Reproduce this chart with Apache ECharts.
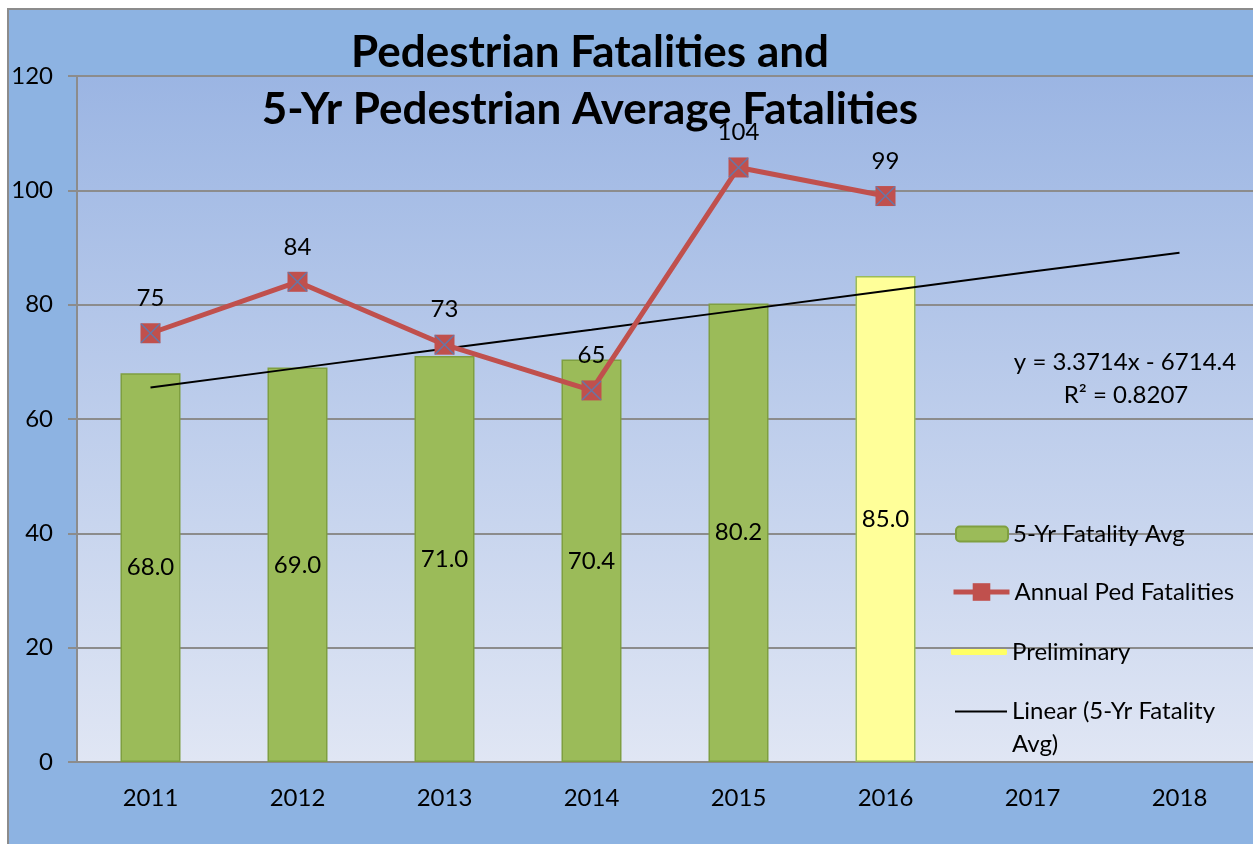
<!DOCTYPE html>
<html>
<head>
<meta charset="utf-8">
<script src="https://cdn.jsdelivr.net/npm/echarts@6/dist/echarts.min.js"></script>
<style>
  body { margin: 0; background: #fff; }
  #bg { position: absolute; left: 7px; top: 8px; width: 1246px; height: 836px;
        background: #8db3e2; border-left: 2px solid #8c8c8c; border-top: 2px solid #8c8c8c; box-sizing: border-box; }
  #chart { position: absolute; left: 0; top: 0; width: 1253px; height: 844px; }
</style>
</head>
<body>
<div id="bg"></div>
<div id="chart"></div>
<script>
// values
const years = ['2011', '2012', '2013', '2014', '2015', '2016', '2017', '2018']
const avgFatalities = [68.0, 69.0, 71.0, 70.4, 80.2, 85.0]
const annualFatalities = [75, 84, 73, 65, 104, 99]
const trendValues = [65.5, 68.9, 72.3, 75.6, 79.0, 82.4, 85.8, 89.1]
const preliminaryYear = '2016'
const trendText = ['y = 3.3714x - 6714.4', 'R² = 0.8207']

const FONT = 'Lato'
const FS = 24

const barData = avgFatalities.map((v, i) => years[i] === preliminaryYear
  ? {value: v, itemStyle: {color: '#ffff99', borderColor: '#9bbb59'}}
  : v)

const legendBase = {
  orient: 'vertical',
  padding: 0,
  textStyle: {fontFamily: FONT, fontSize: FS, color: '#000'},
  selectedMode: false
}

const option = {
  backgroundColor: 'transparent',
  animation: false,
  title: {
    text: 'Pedestrian Fatalities and\n5-Yr Pedestrian Average Fatalities',
    left: 585,
    top: 19,
    textAlign: 'center',
    textStyle: {fontFamily: FONT, fontSize: 44, fontWeight: 'bold', color: '#000', lineHeight: 57}
  },
  grid: {
    left: 77,
    top: 76,
    right: 0,
    bottom: 82,
    show: true,
    borderWidth: 0,
    backgroundColor: new echarts.graphic.LinearGradient(0, 0, 0, 1, [
      {offset: 0, color: '#9bb5e3'},
      {offset: 1, color: '#e0e6f4'}
    ])
  },
  legend: [
    Object.assign({}, legendBase, {left: 955, top: 522, itemWidth: 52, itemHeight: 15, data: ['5-Yr Fatality Avg']}),
    Object.assign({}, legendBase, {
      left: 951, top: 580, itemWidth: 56, itemHeight: 22,
      lineStyle: {width: 5, color: '#c0504d'},
      data: ['Annual Ped Fatalities']
    }),
    Object.assign({}, legendBase, {
      left: 951, top: 640, itemWidth: 56, itemHeight: 6,
      data: [{name: 'Preliminary', icon: 'roundRect'}]
    }),
    Object.assign({}, legendBase, {
      left: 955, top: 662, itemWidth: 52, itemHeight: 2,
      data: [{name: 'Linear (5-Yr Fatality Avg)', icon: 'rect'}],
      formatter: () => '\nLinear (5-Yr Fatality\nAvg)',
      textStyle: {fontFamily: FONT, fontSize: FS, color: '#000', lineHeight: 33}
    })
  ],
  xAxis: {
    type: 'category',
    data: years,
    axisLine: {lineStyle: {color: '#8c8c8c', width: 2}},
    axisTick: {show: false},
    axisLabel: {fontFamily: FONT, fontSize: FS, color: '#000', margin: 24}
  },
  yAxis: {
    type: 'value',
    min: 0,
    max: 120,
    interval: 20,
    axisLine: {show: true, lineStyle: {color: '#8c8c8c', width: 2}},
    axisTick: {show: true, length: 9, lineStyle: {color: '#8c8c8c', width: 2}},
    axisLabel: {fontFamily: FONT, fontSize: FS, color: '#000', margin: 24},
    splitLine: {lineStyle: {color: '#8c8c8c', width: 2}}
  },
  series: [
    {
      name: '5-Yr Fatality Avg',
      type: 'bar',
      barWidth: 60,
      data: barData,
      itemStyle: {color: '#9bbb59', borderColor: '#7f9f40', borderWidth: 1.5},
      label: {
        show: true,
        position: 'inside',
        fontFamily: FONT,
        fontSize: FS,
        color: '#000',
        formatter: p => Number(p.value).toFixed(1)
      }
    },
    {
      name: 'Preliminary',
      type: 'line',
      data: [],
      color: '#ffff66',
      symbol: 'none',
      lineStyle: {width: 6, color: '#ffff66'}
    },
    {
      name: 'Linear (5-Yr Fatality Avg)',
      type: 'line',
      data: trendValues,
      color: '#000',
      symbol: 'none',
      lineStyle: {width: 2, color: '#000'},
      z: 3
    },
    {
      name: 'Annual Ped Fatalities',
      type: 'line',
      data: annualFatalities,
      color: '#c0504d',
      symbol: 'rect',
      symbolSize: 20,
      lineStyle: {width: 5, color: '#c0504d'},
      itemStyle: {color: '#c0504d'},
      label: {
        show: true,
        position: 'top',
        distance: 13,
        fontFamily: FONT,
        fontSize: FS,
        color: '#000'
      },
      z: 4
    },
    {
      name: 'marker-x',
      type: 'scatter',
      data: annualFatalities,
      symbol: 'path://M0 0L10 10M10 0L0 10',
      symbolSize: 19,
      itemStyle: {color: 'transparent', borderColor: '#4f81bd', borderWidth: 1.5},
      silent: true,
      z: 5
    }
  ],
  graphic: [
    {type: 'text', x: 1125, y: 362, style: {text: trendText[0], fontFamily: FONT, fontSize: FS, fill: '#000', align: 'center', verticalAlign: 'middle'}},
    {type: 'text', x: 1126, y: 395, style: {text: trendText[1], fontFamily: FONT, fontSize: FS, fill: '#000', align: 'center', verticalAlign: 'middle'}}
  ]
}

const chart = echarts.init(document.getElementById('chart'))
chart.setOption(option)
</script>
</body>
</html>
